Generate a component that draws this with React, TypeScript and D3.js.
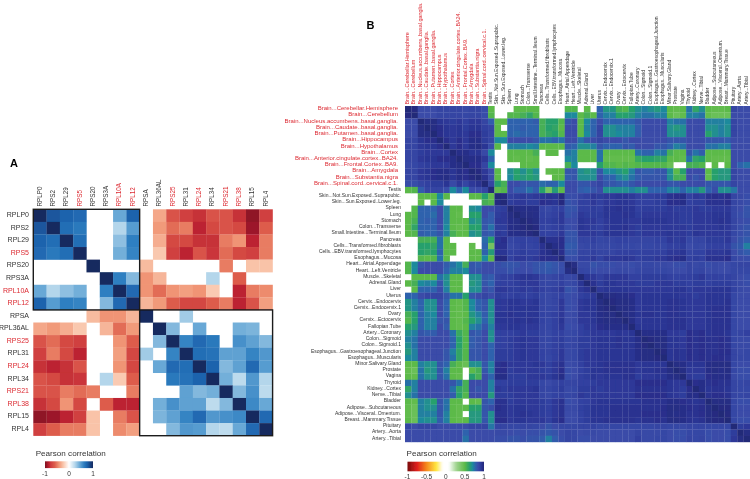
import * as d3 from 'd3';

const FONT = '"Liberation Sans", Arial, sans-serif';

// Panel A: ribosomal proteins
const genes = ['RPLP0', 'RPS2', 'RPL29', 'RPS5', 'RPS20', 'RPS3A', 'RPL10A', 'RPL12', 'RPSA', 'RPL36AL', 'RPS25', 'RPL31', 'RPL24', 'RPL34', 'RPS21', 'RPL38', 'RPL15', 'RPL4'];
const redGenes = ['RPS5', 'RPL10A', 'RPL12', 'RPS25', 'RPL24', 'RPS21', 'RPL38'];
// lower triangle, 0 = not significant (blank)
const corrA = [
  [1],
  [.8, 1],
  [.75, .7, 1],
  [.72, .65, .7, 1],
  [0, 0, 0, 0, 1],
  [0, 0, 0, 0, 0, 1],
  [.45, .25, .35, .42, 0, .62, 1],
  [.75, .5, .62, .6, 0, .38, .72, 1],
  [0, 0, 0, 0, -.28, -.42, -.42, -.3, 1],
  [-.35, -.4, -.33, -.23, 0, -.3, -.55, -.4, 0, 1],
  [-.65, -.55, -.7, -.75, 0, 0, -.42, -.6, 0, .38, 1],
  [-.75, -.5, -.7, -.85, 0, 0, -.38, -.72, .3, 0, .6, 1],
  [-.8, -.85, -.8, -.65, 0, 0, -.42, -.72, 0, .45, .72, .7, 1],
  [-.65, -.7, -.8, -.78, 0, .25, -.22, -.6, 0, 0, .65, .68, .75, 1],
  [-.65, -.65, -.5, -.55, -.5, 0, 0, -.5, 0, 0, 0, .48, .38, .42, 1],
  [-.8, -.7, -.42, -.7, 0, -.6, -.85, -.85, 0, .42, .55, .48, .48, .22, .38, 1],
  [-.95, -.92, -.85, -.75, -.25, 0, -.5, -.65, 0, .4, .48, .6, .72, .52, .55, .58, 1],
  [-.75, -.6, -.5, -.5, -.25, 0, -.45, -.38, 0, 0, .38, .52, .5, .25, .22, .45, .72, 1],
];
const clustersA = [['RPLP0', 'RPL12'], ['RPSA', 'RPL4']];
const ticksA = [-1, 0, 1];

// Panel B: tissues
const tissues = [
  'Brain...Cerebellar.Hemisphere', 'Brain...Cerebellum', 'Brain...Nucleus.accumbens..basal.ganglia.', 'Brain...Caudate..basal.ganglia.',
  'Brain...Putamen..basal.ganglia.', 'Brain...Hippocampus', 'Brain...Hypothalamus', 'Brain...Cortex', 'Brain...Anterior.cingulate.cortex..BA24.',
  'Brain...Frontal.Cortex..BA9.', 'Brain...Amygdala', 'Brain...Substantia.nigra', 'Brain...Spinal.cord..cervical.c.1.', 'Testis',
  'Skin...Not.Sun.Exposed..Suprapubic.', 'Skin...Sun.Exposed..Lower.leg.', 'Spleen', 'Lung', 'Stomach', 'Colon...Transverse',
  'Small.Intestine...Terminal.Ileum', 'Pancreas', 'Cells...Transformed.fibroblasts', 'Cells...EBV.transformed.lymphocytes', 'Esophagus...Mucosa',
  'Heart...Atrial.Appendage', 'Heart...Left.Ventricle', 'Muscle...Skeletal', 'Adrenal.Gland', 'Liver', 'Uterus', 'Cervix...Endocervix',
  'Cervix...Endocervix.1', 'Ovary', 'Cervix...Ectocervix', 'Fallopian.Tube', 'Artery...Coronary', 'Colon...Sigmoid', 'Colon...Sigmoid.1',
  'Esophagus...Gastroesophageal.Junction', 'Esophagus...Muscularis', 'Minor.Salivary.Gland', 'Prostate', 'Vagina', 'Thyroid', 'Kidney...Cortex',
  'Nerve...Tibial', 'Bladder', 'Adipose...Subcutaneous', 'Adipose...Visceral..Omentum.', 'Breast...Mammary.Tissue', 'Pituitary', 'Artery...Aorta', 'Artery...Tibial',
];
// lower triangle in percent, 0 = blank
const corrB = [
  [100],
  [98, 100],
  [85, 85, 100],
  [85, 85, 97, 100],
  [85, 85, 97, 97, 100],
  [88, 88, 93, 95, 95, 100],
  [88, 88, 92, 93, 93, 95, 100],
  [88, 88, 91, 92, 92, 92, 92, 100],
  [88, 88, 92, 93, 93, 95, 95, 96, 100],
  [86, 87, 90, 91, 92, 92, 92, 96, 97, 100],
  [88, 88, 92, 93, 95, 96, 96, 93, 96, 95, 100],
  [88, 88, 92, 93, 95, 96, 97, 93, 96, 95, 98, 100],
  [84, 84, 88, 90, 91, 91, 93, 86, 92, 88, 92, 94, 100],
  [50, 52, 80, 88, 88, 88, 84, 70, 78, 70, 85, 85, 88, 100],
  [0, 0, 50, 50, 50, 70, 50, 0, 0, 0, 50, 50, 62, 48, 100],
  [0, 0, 50, 0, 50, 70, 0, 0, 0, 0, 0, 0, 55, 52, 98, 100],
  [0, 52, 78, 78, 78, 85, 72, 50, 50, 0, 68, 70, 85, 85, 90, 91, 100],
  [50, 52, 78, 78, 76, 85, 72, 50, 48, 0, 62, 62, 85, 80, 91, 92, 97, 100],
  [50, 55, 78, 80, 78, 85, 72, 50, 50, 50, 68, 65, 82, 80, 92, 92, 96, 97, 100],
  [50, 60, 78, 78, 78, 85, 70, 50, 48, 50, 62, 62, 82, 75, 91, 91, 96, 97, 98, 100],
  [50, 52, 80, 78, 78, 82, 72, 55, 50, 50, 68, 65, 82, 80, 92, 91, 96, 96, 97, 98, 100],
  [0, 0, 55, 55, 55, 75, 50, 0, 0, 0, 0, 0, 76, 62, 93, 95, 88, 89, 90, 89, 90, 100],
  [0, 0, 62, 62, 60, 75, 50, 50, 0, 0, 48, 0, 78, 42, 94, 94, 86, 88, 90, 88, 89, 94, 100],
  [0, 0, 62, 60, 62, 78, 50, 50, 0, 0, 50, 50, 78, 64, 93, 93, 89, 90, 91, 90, 90, 94, 96, 100],
  [0, 0, 52, 50, 52, 75, 50, 0, 0, 0, 50, 50, 70, 50, 98, 98, 90, 92, 92, 91, 92, 95, 95, 95, 100],
  [52, 70, 82, 85, 85, 85, 80, 75, 70, 55, 82, 80, 85, 85, 84, 83, 82, 83, 85, 84, 83, 82, 80, 82, 84, 100],
  [52, 70, 85, 85, 85, 85, 78, 72, 72, 70, 82, 82, 85, 85, 84, 84, 83, 84, 85, 85, 83, 82, 81, 83, 84, 97, 100],
  [0, 50, 50, 50, 50, 75, 68, 50, 50, 0, 68, 68, 82, 80, 88, 90, 90, 92, 93, 93, 92, 88, 86, 88, 90, 86, 88, 100],
  [50, 55, 70, 72, 70, 82, 68, 50, 50, 0, 65, 68, 82, 78, 90, 90, 90, 91, 92, 92, 92, 88, 87, 88, 90, 86, 87, 93, 100],
  [0, 50, 78, 78, 78, 85, 72, 50, 50, 0, 68, 68, 85, 82, 92, 92, 91, 91, 92, 91, 92, 90, 88, 90, 92, 83, 84, 92, 94, 100],
  [78, 78, 85, 88, 88, 88, 82, 75, 75, 62, 82, 85, 88, 85, 91, 90, 90, 91, 90, 90, 91, 87, 86, 88, 89, 84, 85, 90, 91, 92, 100],
  [66, 72, 78, 68, 68, 85, 78, 50, 48, 52, 70, 78, 82, 68, 92, 92, 93, 93, 92, 92, 93, 88, 86, 88, 92, 84, 85, 92, 93, 93, 97, 100],
  [66, 72, 78, 68, 68, 85, 78, 50, 48, 52, 70, 78, 82, 68, 92, 92, 93, 93, 93, 93, 93, 88, 87, 88, 92, 84, 85, 92, 93, 93, 97, 98, 100],
  [55, 62, 78, 72, 70, 85, 78, 50, 48, 50, 66, 72, 80, 68, 93, 93, 94, 93, 93, 93, 93, 89, 88, 90, 92, 85, 86, 92, 92, 93, 96, 97, 97, 100],
  [52, 62, 78, 72, 72, 82, 82, 50, 48, 52, 62, 68, 78, 68, 93, 93, 93, 94, 93, 94, 93, 89, 87, 90, 93, 85, 86, 92, 92, 93, 96, 97, 97, 97, 100],
  [62, 65, 78, 72, 72, 85, 80, 50, 48, 50, 72, 75, 82, 72, 92, 92, 93, 93, 92, 92, 92, 88, 87, 90, 92, 84, 85, 90, 92, 92, 95, 96, 96, 96, 96, 100],
  [68, 72, 82, 80, 80, 85, 85, 75, 58, 52, 82, 80, 85, 68, 90, 90, 90, 91, 92, 91, 91, 88, 86, 89, 90, 86, 87, 90, 91, 92, 92, 92, 92, 93, 92, 93, 100],
  [72, 75, 85, 85, 85, 85, 85, 78, 62, 52, 80, 82, 85, 68, 90, 90, 91, 92, 93, 92, 92, 88, 87, 90, 91, 87, 88, 91, 91, 92, 93, 93, 93, 94, 93, 93, 96, 100],
  [68, 75, 85, 85, 85, 85, 85, 78, 62, 52, 80, 82, 85, 78, 90, 90, 91, 92, 93, 92, 92, 88, 87, 90, 91, 87, 88, 91, 91, 92, 93, 93, 93, 94, 93, 93, 96, 98, 100],
  [65, 72, 85, 85, 85, 85, 82, 72, 60, 52, 82, 82, 85, 78, 91, 91, 91, 92, 93, 92, 92, 89, 88, 90, 92, 86, 87, 91, 92, 92, 93, 93, 93, 93, 93, 93, 96, 97, 97, 100],
  [70, 72, 85, 85, 85, 85, 82, 75, 60, 52, 82, 82, 85, 78, 91, 91, 91, 92, 93, 92, 92, 89, 87, 90, 92, 86, 87, 91, 92, 92, 93, 93, 93, 93, 93, 93, 96, 97, 97, 98, 100],
  [50, 50, 72, 68, 68, 82, 78, 55, 50, 46, 68, 68, 82, 72, 94, 95, 92, 92, 92, 92, 93, 92, 90, 92, 94, 85, 86, 90, 92, 92, 93, 94, 94, 94, 94, 94, 92, 93, 93, 93, 93, 100],
  [48, 45, 75, 65, 68, 82, 72, 50, 50, 0, 50, 55, 82, 72, 95, 95, 91, 92, 92, 92, 92, 91, 90, 92, 95, 84, 85, 89, 91, 93, 93, 94, 94, 94, 94, 94, 92, 93, 93, 94, 94, 97, 100],
  [50, 48, 75, 68, 68, 82, 75, 50, 48, 0, 62, 55, 85, 78, 96, 96, 91, 91, 91, 92, 92, 92, 91, 93, 96, 84, 85, 90, 91, 93, 92, 93, 93, 93, 94, 94, 91, 92, 92, 93, 93, 96, 97, 100],
  [75, 72, 85, 85, 85, 85, 85, 82, 75, 55, 85, 85, 85, 72, 90, 90, 91, 91, 91, 91, 91, 87, 85, 88, 90, 88, 88, 90, 90, 91, 92, 92, 92, 92, 92, 92, 95, 95, 95, 95, 95, 93, 92, 92, 100],
  [60, 72, 85, 85, 85, 85, 85, 75, 60, 55, 85, 82, 85, 72, 92, 91, 92, 92, 92, 92, 93, 88, 87, 89, 91, 86, 87, 91, 91, 92, 91, 92, 92, 92, 92, 92, 94, 94, 94, 94, 94, 93, 92, 91, 95, 100],
  [68, 75, 85, 85, 85, 85, 85, 80, 62, 52, 85, 85, 85, 65, 91, 91, 91, 92, 92, 92, 92, 88, 86, 89, 90, 87, 88, 92, 91, 92, 92, 92, 92, 92, 92, 92, 95, 95, 95, 95, 95, 93, 92, 91, 96, 96, 100],
  [50, 48, 72, 68, 62, 82, 75, 50, 50, 0, 50, 48, 82, 78, 94, 94, 91, 92, 92, 92, 92, 91, 89, 92, 94, 84, 85, 89, 90, 92, 93, 93, 93, 93, 93, 93, 93, 94, 94, 94, 94, 96, 96, 95, 94, 93, 94, 100],
  [48, 45, 72, 68, 68, 82, 75, 50, 48, 50, 62, 62, 82, 84, 95, 94, 92, 93, 93, 92, 92, 91, 90, 92, 94, 86, 86, 90, 91, 93, 93, 93, 94, 94, 94, 94, 94, 94, 94, 94, 95, 97, 97, 96, 95, 94, 95, 97, 100],
  [48, 45, 72, 72, 72, 82, 72, 50, 48, 0, 65, 65, 82, 68, 94, 94, 92, 93, 94, 93, 92, 91, 90, 92, 94, 85, 85, 89, 91, 93, 93, 93, 94, 94, 94, 94, 94, 95, 95, 95, 95, 97, 96, 96, 94, 94, 95, 97, 98, 100],
  [50, 45, 70, 68, 68, 80, 72, 50, 48, 50, 65, 65, 82, 68, 95, 95, 92, 93, 93, 92, 92, 92, 90, 93, 95, 85, 85, 89, 91, 93, 93, 94, 94, 94, 94, 94, 93, 94, 94, 95, 94, 97, 97, 96, 94, 93, 94, 97, 98, 98, 100],
  [88, 85, 88, 88, 88, 85, 85, 85, 85, 85, 88, 88, 88, 74, 88, 88, 87, 87, 88, 88, 87, 85, 83, 85, 87, 87, 87, 88, 88, 89, 87, 87, 87, 87, 87, 87, 87, 87, 87, 88, 88, 87, 87, 86, 88, 88, 88, 87, 87, 87, 87, 100],
  [85, 85, 85, 85, 85, 85, 85, 85, 85, 78, 85, 85, 85, 85, 86, 86, 85, 84, 85, 84, 84, 83, 81, 83, 85, 88, 87, 85, 86, 86, 85, 85, 85, 85, 85, 85, 88, 86, 86, 86, 87, 85, 84, 84, 87, 87, 87, 84, 85, 85, 84, 91, 100],
  [85, 85, 85, 85, 85, 85, 85, 85, 85, 75, 85, 85, 85, 85, 84, 84, 83, 83, 84, 83, 83, 80, 72, 80, 84, 88, 87, 84, 84, 85, 85, 85, 85, 85, 85, 85, 90, 86, 86, 87, 87, 85, 84, 84, 88, 87, 88, 84, 85, 85, 84, 92, 97, 100],
];
const ticksB = [-1, -0.5, 0, 0.5, 1];

const colorA = d3.scaleLinear<string>()
  .domain([-1, -.95, -.85, -.75, -.6, -.42, -.25, 0, .25, .45, .62, .75, 1])
  .range(['#7f0f22', '#8f1526', '#bc2030', '#d0403f', '#dd5c4c', '#f09474', '#f9c3a8', '#ffffff', '#b4d6eb', '#68a8d6', '#2f7fc1', '#1b63ad', '#14295f']);

const colorB = d3.scaleLinear<string>()
  .domain([-1, -.75, -.5, -.25, -.08, .08, .28, .5, .62, .7, .78, .85, .9, .95, 1])
  .range(['#7a0a0a', '#e01f1f', '#f58a1f', '#ffe640', '#ffffff', '#ffffff', '#9fd38e', '#5cba48', '#28a06c', '#1f8a9c', '#2d62ad', '#3a4ba8', '#3040a0', '#292f8c', '#232a78']);

// mirror a lower triangle into a lookup
const lookup = (m: number[][], i: number, j: number) => (i >= j ? m[i][j] : m[j][i]);

const Legend = ({ id, x, y, color, title, titleX, titleY, ticks, barH, labelY }: any) => {
  const stops = d3.range(0, 41).map((i) => -1 + i / 20);
  const [x0, x1] = x.range();
  return (
    <g>
      <defs>
        <linearGradient id={id}>
          {stops.map((s) => (
            <stop key={s} offset={(s + 1) / 2} stopColor={color(s)} />
          ))}
        </linearGradient>
      </defs>
      <text x={titleX} y={titleY} fontSize={8.1} fill="#333">{title}</text>
      <rect x={x0} y={y} width={x1 - x0} height={barH} fill={`url(#${id})`} />
      {ticks.map((t: number) => (
        <text key={t} x={x(t)} y={labelY} fontSize={6.5} textAnchor="middle" fill="#333">{t}</text>
      ))}
    </g>
  );
};

export default function App() {
  // panel A scales
  const xA = d3.scaleBand<string>().domain(genes).range([33.3, 272.6]);
  const yA = d3.scaleBand<string>().domain(genes).range([209.3, 435.7]);
  const legendA = d3.scaleLinear().domain([-1, 1]).range([45, 93]);

  // panel B scales
  const xB = d3.scaleBand<string>().domain(tissues).range([405, 750]);
  const yB = d3.scaleBand<string>().domain(tissues).range([106, 442]);
  const legendB = d3.scaleLinear().domain([-1, 1]).range([407.5, 484]);

  return (
    <svg width={750} height={479} style={{ position: 'absolute', left: 0, top: 0 }} fontFamily={FONT}>
      <defs>
        <filter id="soft" x="0" y="0" width="100%" height="100%">
          <feGaussianBlur stdDeviation="0.3" />
        </filter>
      </defs>
      <rect width={750} height={479} fill="#fff" />
      <g filter="url(#soft)">
        <text x={10} y={167} fontSize={11} fontWeight="bold" fill="#000">A</text>
        <text x={366.5} y={29} fontSize={11} fontWeight="bold" fill="#000">B</text>

        {genes.map((a, i) => genes.map((b, j) => {
          const v = lookup(corrA, i, j);
          return v === 0 ? null : (
            <rect key={a + b} x={xA(b)} y={yA(a)} width={xA.bandwidth() + .2} height={yA.bandwidth() + .2} fill={colorA(v)} />
          );
        }))}
        {clustersA.map(([s, e]) => (
          <rect key={s} x={xA(s)} y={yA(s)} width={xA(e)! + xA.bandwidth() - xA(s)!} height={yA(e)! + yA.bandwidth() - yA(s)!}
            fill="none" stroke="#1a1a1a" strokeWidth={1.4} />
        ))}
        {genes.map((g) => (
          <text key={g} x={29} y={yA(g)! + yA.bandwidth() / 2 - 1} dy=".35em" fontSize={7} textAnchor="end"
            fill={redGenes.includes(g) ? '#dc2a32' : '#333'}>{g}</text>
        ))}
        {genes.map((g) => (
          <text key={g} transform={`translate(${xA(g)! + xA.bandwidth() / 2 - .5},206.5) rotate(-90)`} dy=".35em" fontSize={6.3}
            fill={redGenes.includes(g) ? '#dc2a32' : '#333'}>{g}</text>
        ))}
        <Legend id="gradA" x={legendA} y={461.3} barH={6.8} color={colorA} title="Pearson correlation" titleX={35.7} titleY={456} ticks={ticksA} labelY={476} />

        {tissues.map((a, i) => tissues.map((b, j) => {
          const v = lookup(corrB, i, j);
          return v === 0 ? null : (
            <rect key={a + b} x={xB(b)} y={yB(a)} width={xB.bandwidth() + .2} height={yB.bandwidth() + .2} fill={colorB(v / 100)} />
          );
        }))}
        {tissues.map((t, i) => (
          <text key={t} x={i < 13 ? 398 : 401} y={yB(t)! + yB.bandwidth() / 2 - 1} dy=".35em" fontSize={i < 13 ? 6 : 5} textAnchor="end"
            fill={i < 13 ? '#dc2a32' : '#333'}>{t}</text>
        ))}
        {tissues.map((t, i) => (
          <text key={t} transform={`translate(${xB(t)! + xB.bandwidth() / 2 - 1},104.5) rotate(-90)`} dy=".35em" fontSize={i < 13 ? 5.4 : 4.9}
            fill={i < 13 ? '#dc2a32' : '#333'}>{t}</text>
        ))}
        <Legend id="gradB" x={legendB} y={461.7} barH={9.6} color={colorB} title="Pearson correlation" titleX={406.5} titleY={456} ticks={ticksB} labelY={478.5} />
      </g>
    </svg>
  );
}
